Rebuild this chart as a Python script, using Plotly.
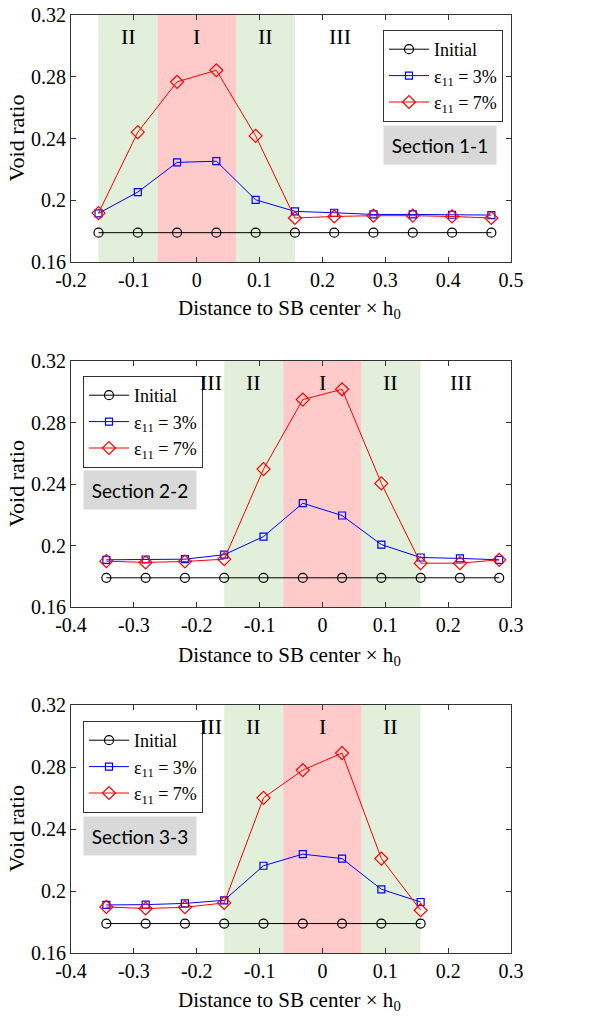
import plotly.graph_objects as go

W, H = 596, 1023

# ---------------- data ----------------
x_sec1 = [-0.15625, -0.09375, -0.03125, 0.03125, 0.09375, 0.15625, 0.21875, 0.28125, 0.34375, 0.40625, 0.46875]
init_sec1 = [0.179, 0.179, 0.179, 0.179, 0.179, 0.179, 0.179, 0.179, 0.179, 0.179, 0.179]
e3_sec1 = [0.1915, 0.2053, 0.2245, 0.2253, 0.2003, 0.1928, 0.1919, 0.1908, 0.1908, 0.1906, 0.1904]
e7_sec1 = [0.1917, 0.2441, 0.2767, 0.2842, 0.2417, 0.1885, 0.1895, 0.1900, 0.1900, 0.1895, 0.1885]

x_sec2 = [-0.34375, -0.28125, -0.21875, -0.15625, -0.09375, -0.03125, 0.03125, 0.09375, 0.15625, 0.21875, 0.28125]
init_sec2 = [0.179, 0.179, 0.179, 0.179, 0.179, 0.179, 0.179, 0.179, 0.179, 0.179, 0.179]
e3_sec2 = [0.1907, 0.1909, 0.1911, 0.1940, 0.2058, 0.2275, 0.2195, 0.2006, 0.1922, 0.1916, 0.1907]
e7_sec2 = [0.1898, 0.1890, 0.1896, 0.1911, 0.2497, 0.2949, 0.3016, 0.2404, 0.1885, 0.1885, 0.1907]

x_sec3 = [-0.34375, -0.28125, -0.21875, -0.15625, -0.09375, -0.03125, 0.03125, 0.09375, 0.15625]
init_sec3 = [0.179, 0.179, 0.179, 0.179, 0.179, 0.179, 0.179, 0.179, 0.179]
e3_sec3 = [0.1910, 0.1912, 0.1920, 0.1940, 0.2163, 0.2238, 0.2209, 0.2011, 0.1929]
e7_sec3 = [0.1897, 0.1887, 0.1895, 0.1923, 0.2601, 0.2780, 0.2890, 0.2209, 0.1876]

series_names = ["Initial", "ε<sub>11</sub> = 3%", "ε<sub>11</sub> = 7%"]
section_labels = ["Section 1-1", "Section 2-2", "Section 3-3"]

zone_bounds = [-0.15625, -0.0625, 0.0625, 0.15625]
zone_labels_sec1 = [("II", -0.109), ("I", 0.0), ("II", 0.109), ("III", 0.228)]
zone_labels_sec2 = [("III", -0.178), ("II", -0.109), ("I", 0.0), ("II", 0.109), ("III", 0.22)]
zone_labels_sec3 = [("III", -0.178), ("II", -0.109), ("I", 0.0), ("II", 0.109)]

y_tickvals = [0.16, 0.2, 0.24, 0.28, 0.32]
y_ticktext = ["0.16", "0.2", "0.24", "0.28", "0.32"]
x1_tickvals = [-0.2, -0.1, 0, 0.1, 0.2, 0.3, 0.4, 0.5]
x1_ticktext = ["-0.2", "-0.1", "0", "0.1", "0.2", "0.3", "0.4", "0.5"]
x23_tickvals = [-0.4, -0.3, -0.2, -0.1, 0, 0.1, 0.2, 0.3]
x23_ticktext = ["-0.4", "-0.3", "-0.2", "-0.1", "0", "0.1", "0.2", "0.3"]

# ---------------- layout geometry (pixels) ----------------
plot_left, plot_right = 71, 511
panels_px = [(15, 262), (361, 607), (705, 953)]  # (top, bottom)
legend_px = [(383, 30), (83, 376), (83, 721)]
section_px = [(440, 145.5), (140, 490), (140, 836)]
xtitle_y = [309, 656, 1001]

def px(x):
    return x / W

def py(y):
    return 1 - y / H

SERIF = "Liberation Serif"
AX = "#333333"
GREEN = "#e2efda"
RED = "#ffcaca"

fig = go.Figure()

panels = [
    (x_sec1, init_sec1, e3_sec1, e7_sec1, [-0.2, 0.5], x1_tickvals, x1_ticktext, zone_labels_sec1),
    (x_sec2, init_sec2, e3_sec2, e7_sec2, [-0.4, 0.3], x23_tickvals, x23_ticktext, zone_labels_sec2),
    (x_sec3, init_sec3, e3_sec3, e7_sec3, [-0.4, 0.3], x23_tickvals, x23_ticktext, zone_labels_sec3),
]

shapes = []
annotations = []

for i, (xs, yi, y3, y7, xr, xtv, xtt, zl) in enumerate(panels):
    n = i + 1
    xa = "x" if n == 1 else f"x{n}"
    ya = "y" if n == 1 else f"y{n}"
    leg = "legend" if n == 1 else f"legend{n}"

    fig.add_trace(go.Scatter(
        x=xs, y=yi, name=series_names[0], mode="lines+markers",
        line=dict(color="#000000", width=1),
        marker=dict(symbol="circle-open", size=9, color="#000000", line=dict(width=1.2)),
        xaxis=xa, yaxis=ya, legend=leg))
    fig.add_trace(go.Scatter(
        x=xs, y=y3, name=series_names[1], mode="lines+markers",
        line=dict(color="#0000ff", width=1),
        marker=dict(symbol="square-open", size=7, color="#0000ff", line=dict(width=1.2)),
        xaxis=xa, yaxis=ya, legend=leg))
    fig.add_trace(go.Scatter(
        x=xs, y=y7, name=series_names[2], mode="lines+markers",
        line=dict(color="#ff0000", width=1),
        marker=dict(symbol="diamond-open", size=10, color="#ff0000", line=dict(width=1.2)),
        xaxis=xa, yaxis=ya, legend=leg))

    top, bot = panels_px[i]
    axis_common = dict(
        showline=True, linecolor=AX, linewidth=1, mirror="ticks",
        ticks="inside", ticklen=5, tickcolor=AX, tickwidth=1,
        showgrid=False, zeroline=False, automargin=False,
        tickfont=dict(family=SERIF, size=20, color="#000000"),
    )
    fig.update_layout({
        f"xaxis{'' if n == 1 else n}": dict(
            domain=[px(plot_left), px(plot_right)], range=xr,
            tickvals=xtv, ticktext=xtt, anchor=ya, **axis_common),
        f"yaxis{'' if n == 1 else n}": dict(
            domain=[py(bot), py(top)], range=[0.16, 0.32],
            tickvals=y_tickvals, ticktext=y_ticktext, anchor=xa, **axis_common),
    })

    zone_colors = [GREEN, RED, GREEN]
    for k in range(3):
        shapes.append(dict(
            type="rect", xref=xa, yref=ya,
            x0=zone_bounds[k], x1=zone_bounds[k + 1], y0=0.16, y1=0.32,
            fillcolor=zone_colors[k], line=dict(width=0), layer="below"))

    for lab, xv in zl:
        annotations.append(dict(
            x=xv, y=0.306, xref=xa, yref=ya, text=lab, showarrow=False,
            font=dict(family=SERIF, size=22, color="#000000"),
            xanchor="center", yanchor="middle"))

    cx, cy = section_px[i]
    annotations.append(dict(
        x=px(cx), y=py(cy), xref="paper", yref="paper",
        text=section_labels[i], showarrow=False,
        font=dict(family="Lato", size=19, color="#000000"),
        bgcolor="#d9d9d9", width=108, height=34, borderpad=2,
        xanchor="center", yanchor="middle"))

    annotations.append(dict(
        x=px((plot_left + plot_right) / 2 - 2), y=py(xtitle_y[i]), xref="paper", yref="paper",
        text="Distance to SB center × h<sub>0</sub>", showarrow=False,
        font=dict(family=SERIF, size=21, color="#000000"),
        xanchor="center", yanchor="middle"))
    annotations.append(dict(
        x=px(16), y=py((top + bot) / 2), xref="paper", yref="paper",
        text="Void ratio", showarrow=False, textangle=-90,
        font=dict(family=SERIF, size=22, color="#000000"),
        xanchor="center", yanchor="middle"))

    lx, ly = legend_px[i]
    fig.update_layout({leg: dict(
        x=px(lx), y=py(ly), xanchor="left", yanchor="top",
        xref="paper", yref="paper",
        bgcolor="#ffffff", bordercolor="#333333", borderwidth=1,
        font=dict(family=SERIF, size=18, color="#000000"),
        itemwidth=40, tracegroupgap=0,
    )})

fig.update_layout(
    width=W, height=H,
    margin=dict(l=0, r=0, t=0, b=0, autoexpand=False),
    font=dict(family=SERIF, color="#000000"),
    paper_bgcolor="#ffffff", plot_bgcolor="#ffffff",
    shapes=shapes, annotations=annotations,
    showlegend=True,
)

fig.write_html("out.html")
